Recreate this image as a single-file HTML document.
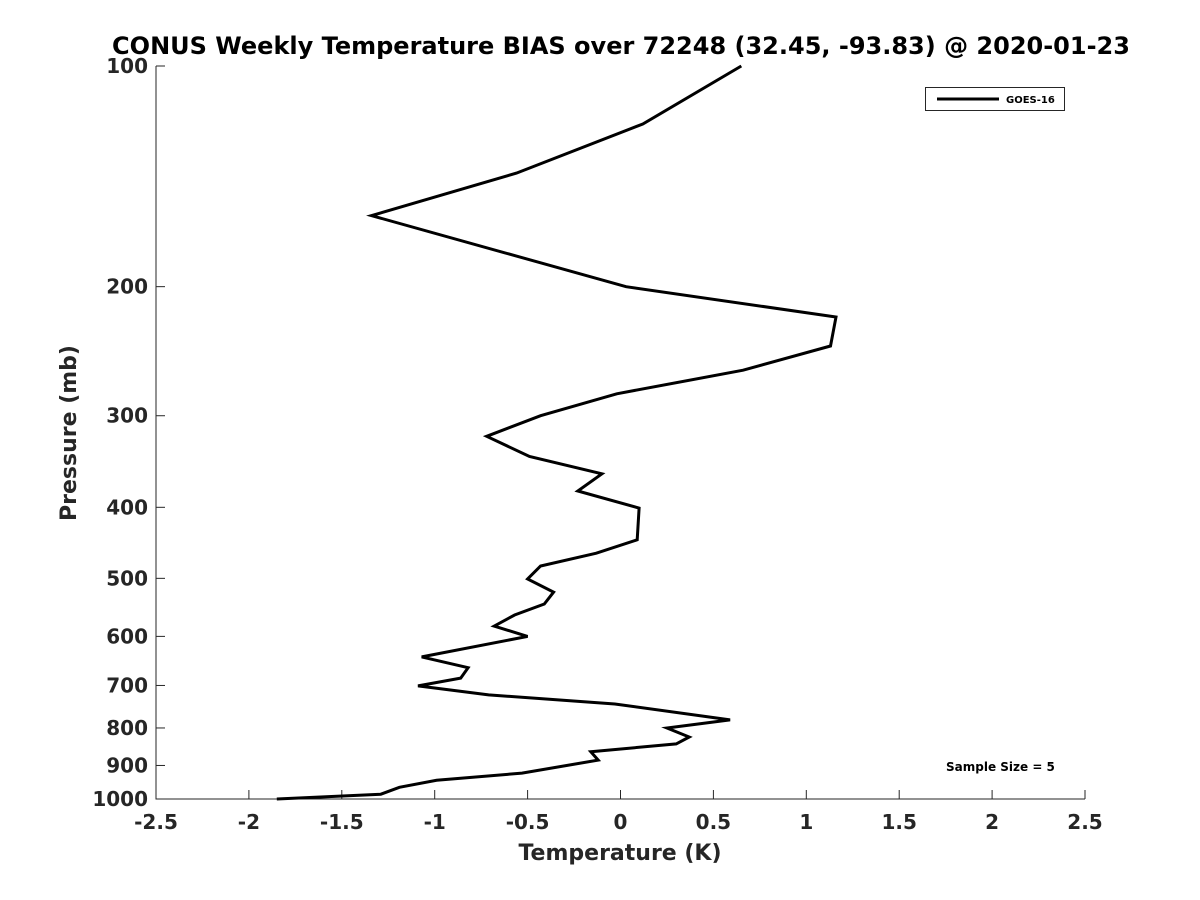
<!DOCTYPE html>
<html><head><meta charset="utf-8"><style>
body{margin:0;background:#fff}
svg{display:block;font-family:"DejaVu Sans","Liberation Sans",sans-serif;font-weight:bold}
</style></head><body>
<svg id="c" width="1200" height="900"></svg>
<script>
const temps=[0.65,0.12,-0.56,-1.34,0.03,1.16,1.13,0.66,-0.02,-0.43,-0.72,-0.49,-0.10,-0.23,0.10,0.09,-0.13,-0.43,-0.50,-0.36,-0.41,-0.57,-0.68,-0.50,-1.07,-0.82,-0.86,-1.09,-0.71,-0.03,0.59,0.25,0.37,0.30,-0.16,-0.12,-0.53,-0.99,-1.19,-1.29,-1.85];
const pressures=[100,120,140,160,200,220,241,260,280,300,320,341,360,380,401,443,462,481,501,522,542,561,581,600,640,662,684,701,721,742,780,800,823,841,862,885,922,943,964,985,1000];
const xTicks=[-2.5,-2,-1.5,-1,-0.5,0,0.5,1,1.5,2,2.5];
const xTickLabels=["-2.5","-2","-1.5","-1","-0.5","0","0.5","1","1.5","2","2.5"];
const yTicks=[100,200,300,400,500,600,700,800,900,1000];
const L=156,R=1085,T=66,B=799;
const X=v=>L+(v+2.5)/5*(R-L);
const Y=p=>T+Math.log10(p/100)*(B-T);
const NS="http://www.w3.org/2000/svg",svg=document.getElementById('c');
function el(t,a,txt){const e=document.createElementNS(NS,t);for(const k in a)e.setAttribute(k,a[k]);if(txt!=null)e.textContent=txt;svg.appendChild(e);return e;}
let e=el('path',{d:`M${L},${T}V${B}H${R}`,fill:'none',stroke:'#262626','stroke-width':1});


xTicks.forEach((v,i)=>{
 let t=el('line',{x1:X(v),x2:X(v),y1:B,y2:B-9,stroke:'#262626'});
 
 
 let l=el('text',{x:X(v),y:B+30,'text-anchor':'middle','font-size':20,fill:'#262626'},xTickLabels[i]);
 
 
});
yTicks.forEach(p=>{
 let t=el('line',{x1:L,x2:L+9,y1:Y(p),y2:Y(p),stroke:'#262626'});
 
 
 let l=el('text',{x:L-8,y:Y(p)+7,'text-anchor':'end','font-size':20,fill:'#262626'},String(p));
 
 
});
let pts=temps.map((t,i)=>X(t).toFixed(1)+','+Y(pressures[i]).toFixed(1)).join(' ');
e=el('polyline',{points:pts,fill:'none',stroke:'#000','stroke-width':3,'stroke-linejoin':'miter'});


e=el('text',{x:621,y:54,'text-anchor':'middle','font-size':24,fill:'#000'},'CONUS Weekly Temperature BIAS over 72248 (32.45, -93.83) @ 2020-01-23');


e=el('text',{x:620,y:860,'text-anchor':'middle','font-size':22,fill:'#262626'},'Temperature (K)');


e=el('text',{x:0,y:0,'text-anchor':'middle','font-size':22,fill:'#262626',transform:'translate(76,433) rotate(-90)'},'Pressure (mb)');


e=el('rect',{x:925.5,y:87.5,width:139,height:23,fill:'#fff',stroke:'#262626'});


e=el('line',{x1:937,x2:999,y1:99,y2:99,stroke:'#000','stroke-width':3});


e=el('text',{x:1006,y:103,'font-size':10,fill:'#000'},'GOES-16');


e=el('text',{x:946,y:771,'font-size':12,fill:'#000'},'Sample Size = 5');


</script>
</body></html>
